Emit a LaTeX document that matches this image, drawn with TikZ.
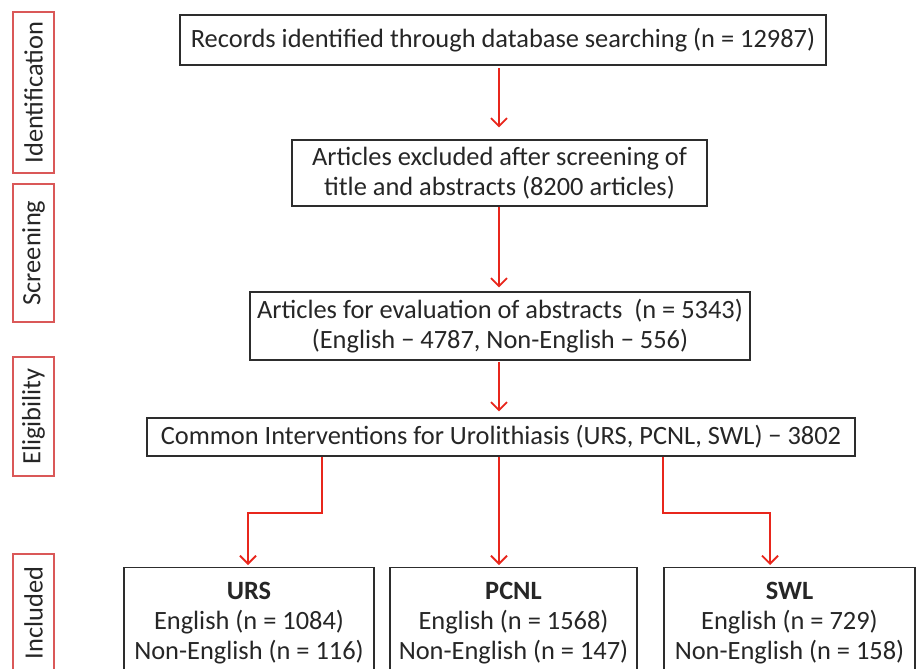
\documentclass[tikz,border=0pt]{standalone}
\usepackage{fontspec}
\setmainfont{Carlito}
\usetikzlibrary{arrows.meta}
\definecolor{flowred}{RGB}{232,38,28}
\definecolor{tagred}{RGB}{218,88,88}
\definecolor{boxline}{RGB}{45,45,45}
\newcommand{\boxfont}{\fontsize{19.8}{22.5}\selectfont}

\begin{document}
\begin{tikzpicture}[x=0.75pt, y=-0.75pt,
    stepbox/.style={draw=boxline, line width=0.9pt, fill=white, align=center,
        inner sep=0pt, font=\boxfont, text=black!85},
    tagbox/.style={draw=tagred, line width=0.9pt, rotate=90, inner sep=0pt,
        minimum height=30.75pt, font=\boxfont, text=black!85},
    flow/.style={flowred, line width=1.6pt, -{Straight Barb[length=6pt, width=12pt, line width=1.4pt]}}]
\clip (0,0) rectangle (916,668);

%%%%------------Phase labels----------------%%
\node [tagbox, minimum width=120.75pt] (ident) at (33.5,92.5)  {Identification}	;
\node [tagbox, minimum width=103.5pt]  (screen) at (33.5,253)  {Screening}		;
\node [tagbox, minimum width=89.25pt]  (elig) at (33.5,416.5)  {Eligibility}		;
\node [tagbox, minimum width=88.5pt]   (incl) at (33.5,613)    {Included}		;

%%%%------------Flow boxes----------------%%
\node [stepbox, minimum width=484.5pt, minimum height=37.5pt] (records) at (503,40)
	{Records identified through database searching (n = 12987)}				;
\node [stepbox, minimum width=311.25pt, minimum height=49.5pt] (excluded) at (499.5,173)
	{Articles excluded after screening of\\title and abstracts (8200 articles)}	;
\node [stepbox, minimum width=375pt, minimum height=51pt] (evaluation) at (500,326)
	{Articles for evaluation of abstracts\ \ (n = 5343)\\(English − 4787, Non-English − 556)}	;
\node [stepbox, minimum width=531pt, minimum height=28.5pt] (common) at (501,437)
	{Common Interventions for Urolithiasis (URS, PCNL, SWL) − 3802}			;

%%%%------------Included studies----------------%%
\node [stepbox, anchor=north, minimum width=187.5pt, inner ysep=11pt] (urs) at (249,567)
	{\textbf{URS}\\English (n = 1084)\\Non-English (n = 116)}					;
\node [stepbox, anchor=north, minimum width=185.25pt, inner ysep=11pt] (pcnl) at (513.5,567)
	{\textbf{PCNL}\\English (n = 1568)\\Non-English (n = 147)}					;
\node [stepbox, anchor=north, minimum width=188.25pt, inner ysep=11pt] (swl) at (789.5,567)
	{\textbf{SWL}\\English (n = 729)\\Non-English (n = 158)}					;

%%%-------------Arrows-------------%%%
\coordinate (mid)    at (499,513)	;
\coordinate (splitL) at (322,513)	;
\coordinate (bendL)  at (248,513)	;
\coordinate (splitR) at (663,513)	;
\coordinate (bendR)  at (770,513)	;

\draw [flow, shorten <=2pt, shorten >=9pt] (records.south -| mid) -- (excluded.north -| mid)	;
\draw [flow, shorten >=3pt] (excluded.south -| mid) -- (evaluation.north -| mid)			;
\draw [flow, shorten <=1pt, shorten >=4.5pt] (evaluation.south -| mid) -- (common.north -| mid)	;

\draw [flow, shorten >=1.5pt] (common.south -| splitL) -- (splitL) -- (bendL) -- (bendL |- urs.north)	;
\draw [flow, shorten >=1.5pt] (common.south -| mid) -- (mid |- pcnl.north)				;
\draw [flow, shorten >=1.5pt] (common.south -| splitR) -- (splitR) -- (bendR) -- (bendR |- swl.north)	;
\end{tikzpicture}
\end{document}
